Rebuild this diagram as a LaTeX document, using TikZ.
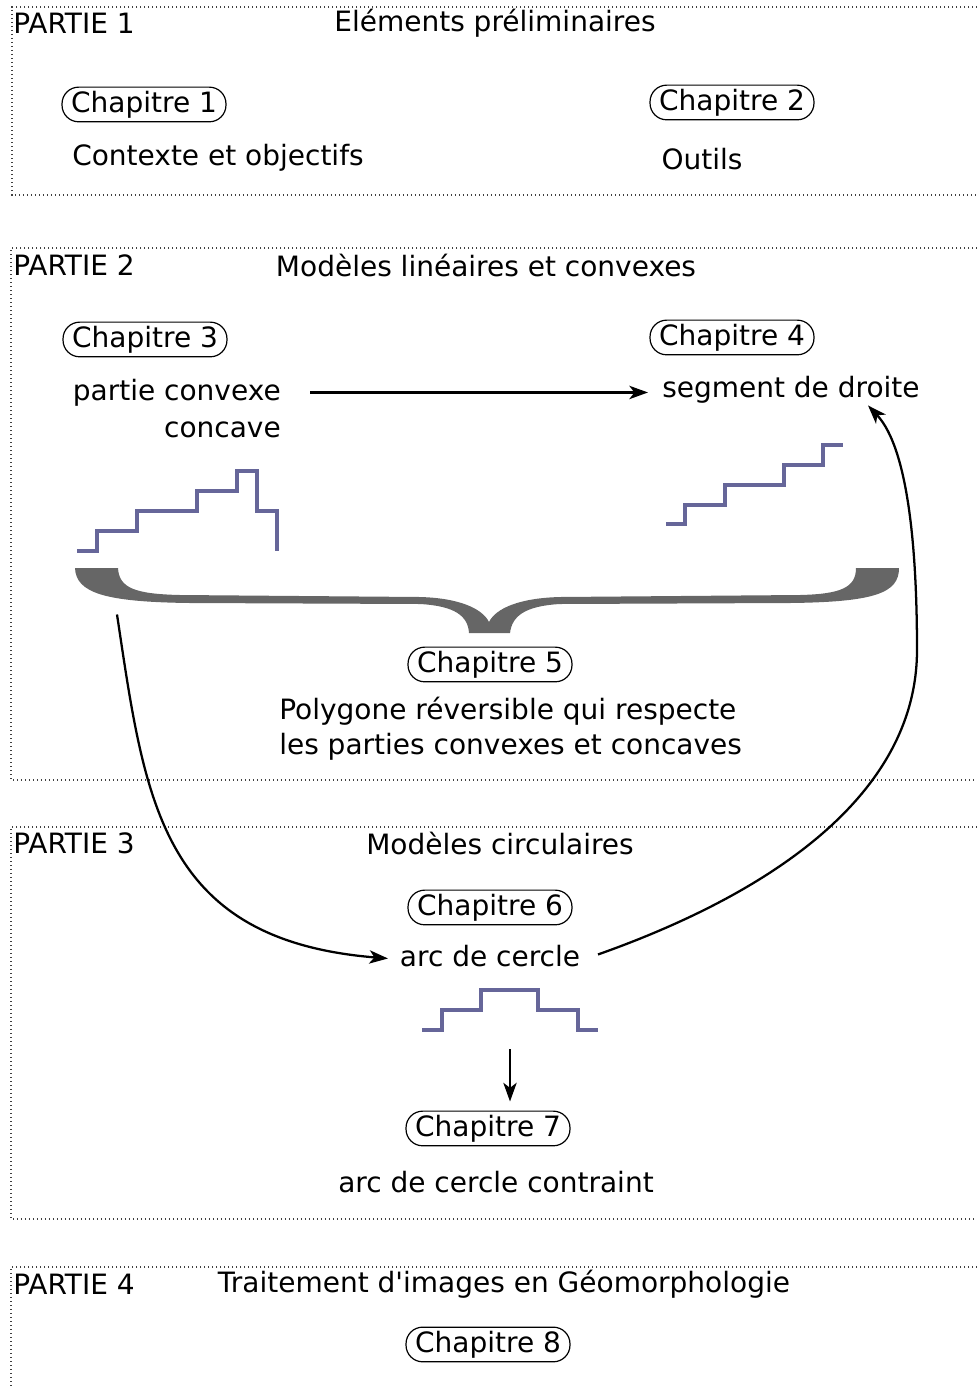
\documentclass[tikz,border=0pt]{standalone}
\usepackage{fontspec}
\newfontfamily\djv{DejaVu Sans}
\usetikzlibrary{arrows.meta}
\definecolor{stair}{RGB}{102,102,153}
\definecolor{bracegray}{RGB}{102,102,102}
\begin{document}
\begin{tikzpicture}[x=0.75pt,y=-0.75pt,
  every node/.style={font=\djv\fontsize{21}{26.5}\selectfont, inner sep=0pt, yshift=-1.1pt},
  chap/.style={draw, line width=0.9pt, rounded corners=12.5pt, minimum height=26pt, inner xsep=6.8pt, inner ysep=0pt},
  part/.style={anchor=west},
  frame/.style={draw=black!75, line width=0.9pt, dash pattern=on 0.9pt off 2.1pt},
  stairs/.style={draw=stair, line width=3pt},
  conn/.style={line width=1.7pt, -{Stealth[length=14pt,width=10pt,inset=3.8pt]}}
]
\useasboundingbox (0,0) rectangle (977,1389);

% frames
\draw[frame] (977,7) -- (12,7) -- (12,195) -- (977,195);
\draw[frame] (977,248) -- (11,248) -- (11,780) -- (977,780);
\draw[frame] (977,827) -- (11,827) -- (11,1219) -- (977,1219);
\draw[frame] (977,1267) -- (11,1267) -- (11,1389);

% PARTIE 1
\node[part] (p1) at (13,22) {PARTIE 1};
\node (h1) at (495,22) {Eléments préliminaires};
\node[chap] (c1) at (144,103) {Chapitre 1};
\node (t1) at (218,156) {Contexte et objectifs};
\node[chap] (c2) at (732,101) {Chapitre 2};
\node (t2) at (702,158) {Outils};

% PARTIE 2
\node[part] (p2) at (13,264) {PARTIE 2};
\node (h2) at (486,264) {Modèles linéaires et convexes};
\node[chap] (c3) at (145,338) {Chapitre 3};
\node[anchor=east] (t3a) at (281,391) {partie convexe};
\node[anchor=east] (t3b) at (281,428) {concave};
\node[chap] (c4) at (732,336) {Chapitre 4};
\node[anchor=west] (t4) at (662,388) {segment de droite};
\node[chap] (c5) at (490,663) {Chapitre 5};
\node[anchor=west, align=left] (t5) at (279,727) {Polygone réversible qui respecte\\les parties convexes et concaves};

\draw[stairs] (77,551) -- (97,551) -- (97,531) -- (137,531) -- (137,511) -- (197,511) -- (197,491) -- (237,491) -- (237,471) -- (257,471) -- (257,511) -- (277,511) -- (277,551);
\draw[stairs] (666,524) -- (685,524) -- (685,505) -- (725,505) -- (725,485) -- (784,485) -- (784,465) -- (823,465) -- (823,445) -- (843,445);

% brace
\fill[bracegray] (75,568) .. controls (76,593) and (105,602) .. (190,603)
  -- (420,604) .. controls (455,606) and (468,616) .. (469,633)
  -- (510,633) .. controls (512,616) and (525,606) .. (560,604)
  -- (790,603) .. controls (875,602) and (899,593) .. (899,568)
  -- (856,568) .. controls (856,588) and (840,594) .. (800,595)
  -- (560,597) .. controls (520,598) and (496,608) .. (489,622)
  .. controls (482,608) and (458,598) .. (420,597)
  -- (180,595) .. controls (135,594) and (119,588) .. (118,568) -- cycle;
\coordinate (braceL) at (117,613);

% PARTIE 3
\node[part] (p3) at (13,842) {PARTIE 3};
\node (h3) at (500,842) {Modèles circulaires};
\node[chap] (c6) at (490,906) {Chapitre 6};
\node (t6) at (490,955) {arc de cercle};
\draw[stairs] (422,1030) -- (442,1030) -- (442,1010) -- (481,1010) -- (481,990) -- (538,990) -- (538,1010) -- (578,1010) -- (578,1030) -- (598,1030);
\coordinate (st3) at (510,1048);
\node[chap] (c7) at (488,1127) {Chapitre 7};
\node (t7) at (496,1181) {arc de cercle contraint};

% PARTIE 4
\node[part] (p4) at (13,1283) {PARTIE 4};
\node (h4) at (504,1283) {Traitement d'images en Géomorphologie};
\node[chap] (c8) at (488,1343) {Chapitre 8};

% connectors
\coordinate (a1s) at (310,391);
\coordinate (a1e) at (648,391);
\draw[conn] (a1s) -- (a1e);
\coordinate (a2e) at (388,957);
\draw[conn] (braceL) .. controls (145,800) and (160,940) .. (a2e);
\coordinate (a3s) at (598,953);
\coordinate (droiteA) at (868,404);
\draw[conn] (a3s) .. controls (780,890) and (917,790) .. (917,650)
  .. controls (917,560) and (910,450) .. (droiteA);
\coordinate (a4e) at (510,1100);
\draw[conn] (st3) -- (a4e);
\end{tikzpicture}
\end{document}
